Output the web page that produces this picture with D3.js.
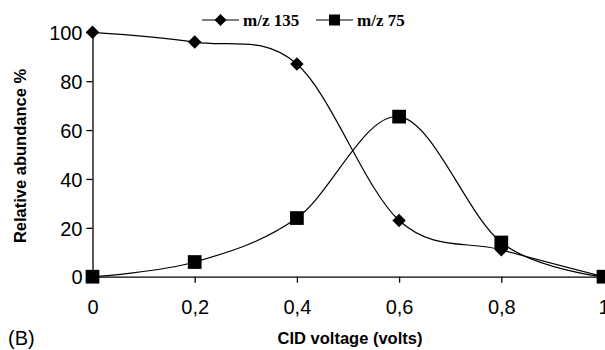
<!DOCTYPE html>
<html lang="en">
<head>
<meta charset="UTF-8">
<title>CID voltage chart</title>
<style>
  body { margin: 0; background: #fff; }
  svg { display: block; }
</style>
</head>
<body>
<svg id="chart" width="605" height="350"></svg>
<script src="https://cdn.jsdelivr.net/npm/d3@7"></script>
<script>
  // data
  const voltages = [0, 0.2, 0.4, 0.6, 0.8, 1];
  const mz135 = [100, 96, 87, 23, 11, 0];
  const mz75 = [0, 6, 24, 65.5, 14, 0];
  const xTicks = [0, 0.2, 0.4, 0.6, 0.8, 1];
  const yTicks = [0, 20, 40, 60, 80, 100];

  const sans = 'Liberation Sans, Arial, sans-serif';
  const svg = d3.select('#chart');
  const x = d3.scaleLinear().domain([0, 1]).range([92.5, 603.5]);
  const y = d3.scaleLinear().domain([0, 100]).range([276.7, 32.3]);

  // axes
  const xAxis = svg.append('g')
    .attr('transform', `translate(0,${y(0)})`)
    .call(d3.axisBottom(x).tickValues(xTicks).tickSize(6).tickSizeOuter(0)
      .tickFormat(d => d3.format('~g')(d).replace('.', ',')));
  const yAxis = svg.append('g')
    .attr('transform', `translate(${x(0)},0)`)
    .call(d3.axisLeft(y).tickValues(yTicks).tickSize(6).tickSizeOuter(0));

  [xAxis, yAxis].forEach(g => {
    g.select('.domain').attr('stroke', '#000').attr('stroke-width', 1.3);
    g.selectAll('.tick line').attr('stroke', '#000').attr('stroke-width', 1.3);
    g.selectAll('text').attr('fill', '#000')
      .style('font-family', sans).style('font-size', '20px');
  });
  xAxis.selectAll('text').attr('y', 0).attr('dy', 37);
  yAxis.selectAll('text').attr('x', -10).attr('dy', '0.36em');

  // curves (smoothed like a spreadsheet line chart)
  const line = d3.line()
    .x((d, i) => x(voltages[i]))
    .y(d => y(d))
    .curve(d3.curveCatmullRom.alpha(0));

  svg.append('path').datum(mz75).attr('d', line)
    .attr('fill', 'none').attr('stroke', '#000').attr('stroke-width', 1.2);
  svg.append('path').datum(mz135).attr('d', line)
    .attr('fill', 'none').attr('stroke', '#000').attr('stroke-width', 1.2);

  const diamond = d3.symbol().type(d3.symbolDiamond2).size(115);
  const square = d3.symbol().type(d3.symbolSquare2).size(240);

  svg.append('g').selectAll('path').data(mz135).join('path')
    .attr('transform', (d, i) => `translate(${x(voltages[i])},${y(d)})`)
    .attr('d', diamond).attr('fill', '#000');
  svg.append('g').selectAll('path').data(mz75).join('path')
    .attr('transform', (d, i) => `translate(${x(voltages[i])},${y(d)})`)
    .attr('d', square).attr('fill', '#000');

  // legend
  const legend = [
    { label: 'm/z 135', sym: d3.symbol().type(d3.symbolDiamond2).size(92), x0: 202 },
    { label: 'm/z 75', sym: d3.symbol().type(d3.symbolSquare2).size(154), x0: 316 }
  ];
  const lg = svg.append('g').selectAll('g').data(legend).join('g')
    .attr('transform', d => `translate(${d.x0},20)`);
  lg.append('line').attr('x1', 0).attr('x2', 37).attr('stroke', '#000').attr('stroke-width', 1.2);
  lg.append('path').attr('d', d => d.sym()).attr('transform', 'translate(18.5,0)').attr('fill', '#000');
  lg.append('text').attr('x', 41).attr('dy', '0.35em').text(d => d.label)
    .style('font-family', 'Liberation Serif, Times New Roman, serif')
    .style('font-weight', 'bold').style('font-size', '17px');

  // labels
  svg.append('text')
    .attr('transform', 'translate(26,156) rotate(-90)')
    .attr('text-anchor', 'middle')
    .style('font-family', sans)
    .style('font-weight', 'bold').style('font-size', '16.5px')
    .text('Relative abundance %');
  svg.append('text')
    .attr('x', 350).attr('y', 344)
    .attr('text-anchor', 'middle')
    .style('font-family', sans)
    .style('font-weight', 'bold').style('font-size', '16.5px')
    .text('CID voltage (volts)');
  svg.append('text')
    .attr('x', 8).attr('y', 345)
    .style('font-family', sans)
    .style('font-size', '20px')
    .text('(B)');
</script>
</body>
</html>
